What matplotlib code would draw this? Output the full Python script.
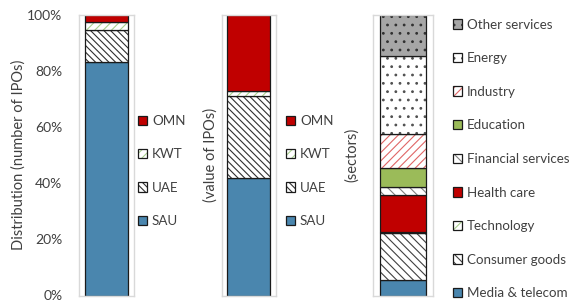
import matplotlib
matplotlib.use("Agg")
import matplotlib.pyplot as plt
from matplotlib.ticker import PercentFormatter

plt.rcParams['font.family'] = ['Lato', 'DejaVu Sans']
plt.rcParams['hatch.linewidth'] = 0.8

# ---- data ----
countries = ['SAU', 'UAE', 'KWT', 'OMN']
ipo_count_share = [83.1, 11.5, 2.7, 2.7]
ipo_value_share = [41.8, 29.3, 1.9, 27.0]

sectors = ['Media & telecom', 'Consumer goods', 'Technology', 'Health care',
           'Financial services', 'Education', 'Industry', 'Energy', 'Other services']
sector_share = [5.4, 16.7, 0.4, 13.3, 2.8, 6.8, 12.1, 27.8, 14.7]

yticks = [0, 20, 40, 60, 80, 100]

# ---- styles ----
country_style = {
    'SAU': dict(face='#4A86AE', hatch=None, hc='#4A86AE'),
    'UAE': dict(face='white', hatch='\\\\\\\\\\', hc='#303030'),
    'KWT': dict(face='white', hatch='////', hc='#A9D08E'),
    'OMN': dict(face='#C00000', hatch=None, hc='#C00000'),
}
sector_style = {
    'Media & telecom': dict(face='#4A86AE', hatch=None, hc='#4A86AE'),
    'Consumer goods': dict(face='white', hatch='\\\\\\\\', hc='#404040'),
    'Technology': dict(face='white', hatch='////', hc='#A9D08E'),
    'Health care': dict(face='#C00000', hatch=None, hc='#C00000'),
    'Financial services': dict(face='white', hatch='\\\\\\', hc='#808080'),
    'Education': dict(face='#9BBB59', hatch=None, hc='#9BBB59'),
    'Industry': dict(face='white', hatch='////', hc='#E06666'),
    'Energy': dict(face='white', hatch='..', hc='#505050'),
    'Other services': dict(face='#A6A6A6', hatch='..', hc='#303030'),
}

W, H = 569, 303
fig = plt.figure(figsize=(W / 100, H / 100), dpi=100)

def axpos(x0, x1, y_top=14.7, y_bot=295.5):
    return [x0 / W, 1 - y_bot / H, (x1 - x0) / W, (y_bot - y_top) / H]

ax1 = fig.add_axes(axpos(79, 134))
ax2 = fig.add_axes(axpos(221.5, 276))
ax3 = fig.add_axes(axpos(373.3, 433))

text_color = '#404040'
fs_lab = 10.5
fs_tick = 10
fs_leg = 9.6

def stacked(ax, labels, values, styles):
    bottom = 0
    handles = []
    for lab, v in zip(labels, values):
        st = styles[lab]
        b1 = ax.bar(0, v, bottom=bottom, width=1.0, color=st['face'],
                    hatch=st['hatch'], edgecolor=st['hc'], linewidth=0)
        b2 = ax.bar(0, v, bottom=bottom, width=1.0, fill=False,
                    edgecolor='#1a1a1a', linewidth=0.9)
        handles.append((b1[0], b2[0]))
        bottom += v
    ax.set_xlim(-0.64, 0.64)
    ax.set_ylim(0, 100)
    ax.set_xticks([])
    for s in ax.spines.values():
        s.set_color('#D9D9D9')
        s.set_linewidth(1.0)
    return handles

h1 = stacked(ax1, countries, ipo_count_share, country_style)
h2 = stacked(ax2, countries, ipo_value_share, country_style)
h3 = stacked(ax3, sectors, sector_share, sector_style)

ax1.set_yticks(yticks)
ax1.yaxis.set_major_formatter(PercentFormatter(decimals=0))
ax1.tick_params(axis='y', length=0, pad=12, labelsize=fs_tick, labelcolor=text_color)
ax2.set_yticks([])
ax3.set_yticks([])

ax1.set_ylabel('Distribution (number of IPOs)', fontsize=fs_lab, color=text_color, labelpad=1)
ax2.set_ylabel('(value of IPOs)', fontsize=fs_lab, color=text_color, labelpad=3)
ax3.set_ylabel('(sectors)', fontsize=fs_lab, color=text_color, labelpad=10)

leg_kw = dict(frameon=False, fontsize=fs_leg, handlelength=0.7, handleheight=0.7,
              handletextpad=0.35, borderpad=0, borderaxespad=0,
              labelcolor=text_color, loc='center left')

ax1.legend(h1[::-1], countries[::-1], bbox_to_anchor=(138 / W, 1 - 171 / H),
           bbox_transform=fig.transFigure, labelspacing=1.6, **leg_kw)
ax2.legend(h2[::-1], countries[::-1], bbox_to_anchor=(286 / W, 1 - 171 / H),
           bbox_transform=fig.transFigure, labelspacing=1.6, **leg_kw)
ax3.legend(h3[::-1], sectors[::-1], bbox_to_anchor=(453 / W, 1 - 159 / H),
           bbox_transform=fig.transFigure, labelspacing=1.62, **leg_kw)

fig.savefig('out.png', dpi=100)
